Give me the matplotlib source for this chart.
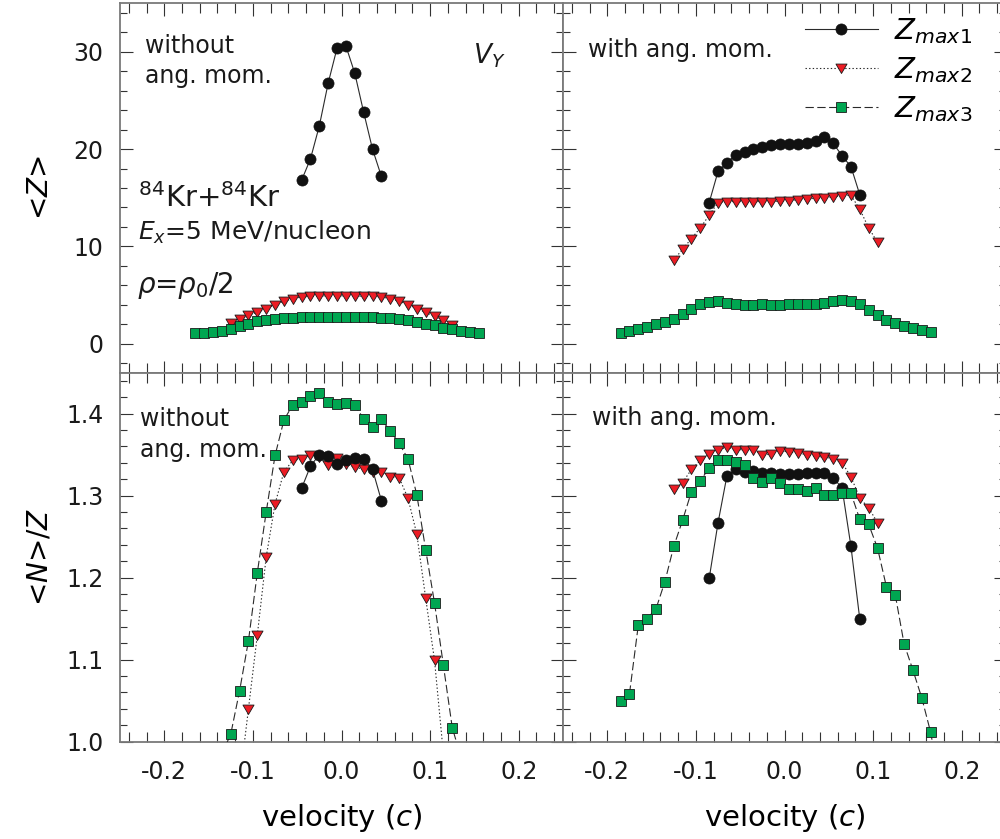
import matplotlib
matplotlib.use('Agg')
import matplotlib.pyplot as plt
from matplotlib.ticker import FixedLocator, MultipleLocator, FormatStrFormatter
from matplotlib.path import Path

plt.rcParams['font.family'] = ['DejaVu Sans']
plt.rcParams['axes.unicode_minus'] = False
plt.rcParams['mathtext.fontset'] = 'dejavusans'
plt.rcParams['lines.scale_dashes'] = False

# ---------------- data ----------------
# top-left: <Z>, without angular momentum
tl_v1 = [-0.045, -0.035, -0.025, -0.015, -0.005, 0.005, 0.015, 0.025, 0.035, 0.045]
tl_z1 = [16.8, 19.0, 22.4, 26.8, 30.4, 30.6, 27.8, 23.8, 20.0, 17.2]
tl_v2 = [-0.125, -0.115, -0.105, -0.095, -0.085, -0.075, -0.065, -0.055, -0.045, -0.035,
         -0.025, -0.015, -0.005, 0.005, 0.015, 0.025, 0.035, 0.045, 0.055, 0.065,
         0.075, 0.085, 0.095, 0.105, 0.115, 0.125]
tl_z2 = [2.1, 2.5, 2.9, 3.2, 3.6, 4.0, 4.35, 4.6, 4.8, 4.85, 4.9, 4.9, 4.9, 4.9, 4.9,
         4.85, 4.85, 4.8, 4.6, 4.35, 4.0, 3.6, 3.2, 2.8, 2.4, 1.9]
tl_v3 = [-0.165, -0.155, -0.145, -0.135, -0.125, -0.115, -0.105, -0.095, -0.085, -0.075,
         -0.065, -0.055, -0.045, -0.035, -0.025, -0.015, -0.005, 0.005, 0.015, 0.025,
         0.035, 0.045, 0.055, 0.065, 0.075, 0.085, 0.095, 0.105, 0.115, 0.125,
         0.135, 0.145, 0.155]
tl_z3 = [1.1, 1.1, 1.2, 1.3, 1.5, 1.8, 2.05, 2.3, 2.45, 2.55, 2.6, 2.65, 2.7, 2.7, 2.7,
         2.7, 2.7, 2.7, 2.7, 2.7, 2.7, 2.65, 2.6, 2.55, 2.4, 2.25, 2.05, 1.9, 1.6, 1.45,
         1.25, 1.15, 1.05]

# top-right: <Z>, with angular momentum
tr_v1 = [-0.085, -0.075, -0.065, -0.055, -0.045, -0.035, -0.025, -0.015, -0.005,
         0.005, 0.015, 0.025, 0.035, 0.045, 0.055, 0.065, 0.075, 0.085]
tr_z1 = [14.5, 17.7, 18.6, 19.4, 19.7, 20.0, 20.2, 20.4, 20.5, 20.5, 20.5, 20.6, 20.8,
         21.2, 20.6, 19.3, 18.2, 15.3]
tr_v2 = [-0.125, -0.115, -0.105, -0.095, -0.085, -0.075, -0.065, -0.055, -0.045, -0.035,
         -0.025, -0.015, -0.005, 0.005, 0.015, 0.025, 0.035, 0.045, 0.055, 0.065,
         0.075, 0.085, 0.095, 0.105]
tr_z2 = [8.6, 9.7, 10.8, 11.9, 13.2, 14.5, 14.6, 14.6, 14.6, 14.6, 14.6, 14.6, 14.65,
         14.7, 14.8, 14.85, 14.95, 15.0, 15.1, 15.2, 15.25, 13.8, 11.9, 10.4]
tr_v3 = [-0.185, -0.175, -0.165, -0.155, -0.145, -0.135, -0.125, -0.115, -0.105, -0.095,
         -0.085, -0.075, -0.065, -0.055, -0.045, -0.035, -0.025, -0.015, -0.005, 0.005,
         0.015, 0.025, 0.035, 0.045, 0.055, 0.065, 0.075, 0.085, 0.095, 0.105,
         0.115, 0.125, 0.135, 0.145, 0.155, 0.165]
tr_z3 = [1.1, 1.25, 1.45, 1.7, 2.0, 2.2, 2.55, 3.0, 3.6, 4.1, 4.3, 4.35, 4.2, 4.05, 3.95,
         3.95, 4.05, 4.0, 4.0, 4.05, 4.05, 4.05, 4.1, 4.2, 4.35, 4.45, 4.35, 4.05, 3.45,
         2.9, 2.45, 2.1, 1.8, 1.55, 1.35, 1.2]

# bottom-left: <N>/Z, without angular momentum
bl_v1 = [-0.045, -0.035, -0.025, -0.015, -0.005, 0.005, 0.015, 0.025, 0.035, 0.045]
bl_r1 = [1.309, 1.336, 1.350, 1.348, 1.338, 1.343, 1.346, 1.345, 1.332, 1.294]
bl_v2 = [-0.115, -0.105, -0.095, -0.085, -0.075, -0.065, -0.055, -0.045, -0.035, -0.025,
         -0.015, -0.005, 0.005, 0.015, 0.025, 0.035, 0.045, 0.055, 0.065, 0.075,
         0.085, 0.095, 0.105, 0.115]
bl_r2 = [0.95, 1.040, 1.130, 1.225, 1.290, 1.329, 1.343, 1.345, 1.350, 1.347, 1.337,
         1.346, 1.338, 1.335, 1.332, 1.329, 1.329, 1.323, 1.322, 1.297, 1.253, 1.175,
         1.099, 0.985]
bl_v3 = [-0.135, -0.125, -0.115, -0.105, -0.095, -0.085, -0.075, -0.065, -0.055, -0.045,
         -0.035, -0.025, -0.015, -0.005, 0.005, 0.015, 0.025, 0.035, 0.045, 0.055,
         0.065, 0.075, 0.085, 0.095, 0.105, 0.115, 0.125, 0.135]
bl_r3 = [0.985, 1.009, 1.062, 1.123, 1.206, 1.280, 1.349, 1.392, 1.411, 1.414, 1.422,
         1.425, 1.414, 1.412, 1.413, 1.410, 1.394, 1.384, 1.393, 1.379, 1.364, 1.345,
         1.301, 1.234, 1.169, 1.093, 1.017, 0.98]

# bottom-right: <N>/Z, with angular momentum
br_v1 = [-0.085, -0.075, -0.065, -0.055, -0.045, -0.035, -0.025, -0.015, -0.005,
         0.005, 0.015, 0.025, 0.035, 0.045, 0.055, 0.065, 0.075, 0.085]
br_r1 = [1.199, 1.267, 1.324, 1.332, 1.329, 1.330, 1.328, 1.327, 1.326, 1.326, 1.326,
         1.327, 1.328, 1.327, 1.322, 1.309, 1.238, 1.149]
br_v2 = [-0.125, -0.115, -0.105, -0.095, -0.085, -0.075, -0.065, -0.055, -0.045, -0.035,
         -0.025, -0.015, -0.005, 0.005, 0.015, 0.025, 0.035, 0.045, 0.055, 0.065,
         0.075, 0.085, 0.095, 0.105]
br_r2 = [1.308, 1.316, 1.332, 1.343, 1.351, 1.356, 1.359, 1.356, 1.356, 1.356, 1.349,
         1.351, 1.355, 1.353, 1.352, 1.350, 1.348, 1.347, 1.345, 1.340, 1.323, 1.297,
         1.285, 1.267]
br_v3 = [-0.185, -0.175, -0.165, -0.155, -0.145, -0.135, -0.125, -0.115, -0.105, -0.095,
         -0.085, -0.075, -0.065, -0.055, -0.045, -0.035, -0.025, -0.015, -0.005, 0.005,
         0.015, 0.025, 0.035, 0.045, 0.055, 0.065, 0.075, 0.085, 0.095, 0.105,
         0.115, 0.125, 0.135, 0.145, 0.155, 0.165, 0.175]
br_r3 = [1.049, 1.058, 1.142, 1.150, 1.162, 1.195, 1.238, 1.270, 1.305, 1.318, 1.334,
         1.344, 1.343, 1.341, 1.337, 1.322, 1.317, 1.321, 1.315, 1.308, 1.308, 1.306,
         1.309, 1.301, 1.301, 1.303, 1.303, 1.271, 1.265, 1.236, 1.189, 1.179, 1.119,
         1.087, 1.053, 1.011, 0.95]

series_labels = [r'$Z_{\mathit{max1}}$', r'$Z_{\mathit{max2}}$', r'$Z_{\mathit{max3}}$']
x_ticks = [-0.2, -0.1, 0.0, 0.1, 0.2]
z_ticks = [0, 10, 20, 30]
nz_ticks = [1.0, 1.1, 1.2, 1.3, 1.4]

# ---------------- styling ----------------
RED = '#ec1c24'
GREEN = '#00a651'
EDGE = '#1a1a1a'
LINEC = '#2a2a2a'
tri = Path([(-1, 0.8), (1, 0.8), (0, -0.9), (-1, 0.8)],
           [Path.MOVETO, Path.LINETO, Path.LINETO, Path.CLOSEPOLY])

fig = plt.figure(figsize=(10, 8.39), dpi=100)
W = 0.443
top_b, top_h = 0.5558, 0.4403
bot_b, bot_h = 0.1162, 0.4396
ax_tl = fig.add_axes([0.120, top_b, W, top_h])
ax_tr = fig.add_axes([0.563, top_b, W, top_h])
ax_bl = fig.add_axes([0.120, bot_b, W, bot_h])
ax_br = fig.add_axes([0.563, bot_b, W, bot_h])


def draw(ax, v1, y1, v2, y2, v3, y3):
    l2, = ax.plot(v2, y2, color=LINEC, lw=0.8, ls=(0, (1.0, 1.6)), marker=tri,
                  ms=8.0, mfc=RED, mec=EDGE, mew=0.6, zorder=2)
    l1, = ax.plot(v1, y1, color=LINEC, lw=0.8, ls='-', marker='o',
                  ms=8.0, mfc='#111111', mec='#111111', mew=0.5, zorder=3)
    l3, = ax.plot(v3, y3, color=LINEC, lw=0.8, ls=(0, (6, 2.5)), marker='s',
                  ms=6.9, mfc=GREEN, mec=EDGE, mew=0.6, zorder=4)
    return l1, l2, l3


def style(ax, top, left, bottom):
    ax.set_xlim(-0.25, 0.25)
    ax.xaxis.set_major_locator(FixedLocator(x_ticks))
    ax.xaxis.set_minor_locator(MultipleLocator(0.02))
    ax.xaxis.set_major_formatter(FormatStrFormatter('%.1f'))
    if top:
        ax.set_ylim(-3, 35)
        ax.yaxis.set_major_locator(FixedLocator(z_ticks))
        ax.yaxis.set_minor_locator(MultipleLocator(2))
        ax.yaxis.set_major_formatter(FormatStrFormatter('%d'))
    else:
        ax.set_ylim(1.0, 1.45)
        ax.yaxis.set_major_locator(FixedLocator(nz_ticks))
        ax.yaxis.set_minor_locator(MultipleLocator(0.02))
        ax.yaxis.set_major_formatter(FormatStrFormatter('%.1f'))
    ax.tick_params(which='both', direction='in', top=True, right=True,
                   color='#333333', width=0.8, labelsize=17, labelcolor='#1a1a1a',
                   labelleft=left, labelbottom=bottom)
    ax.tick_params(which='major', length=9)
    ax.tick_params(axis='x', which='minor', length=7.5)
    ax.tick_params(axis='y', which='minor', length=5)
    ax.tick_params(axis='x', pad=13)
    ax.tick_params(axis='y', pad=12)
    for s in ax.spines.values():
        s.set_color('#7a7a7a')
        s.set_linewidth(1.3)


handles = draw(ax_tr, tr_v1, tr_z1, tr_v2, tr_z2, tr_v3, tr_z3)
draw(ax_tl, tl_v1, tl_z1, tl_v2, tl_z2, tl_v3, tl_z3)
draw(ax_bl, bl_v1, bl_r1, bl_v2, bl_r2, bl_v3, bl_r3)
draw(ax_br, br_v1, br_r1, br_v2, br_r2, br_v3, br_r3)

style(ax_tl, True, True, False)
style(ax_tr, True, False, False)
style(ax_bl, False, True, True)
style(ax_br, False, False, True)

# axis labels
ax_tl.set_ylabel('<$Z$>', fontsize=20)
ax_tl.yaxis.set_label_coords(-0.15, 0.5)
ax_bl.set_ylabel('<$N$>/$Z$', fontsize=20)
ax_bl.yaxis.set_label_coords(-0.15, 0.5)
for ax in (ax_bl, ax_br):
    ax.set_xlabel('velocity ($c$)', fontsize=21)
    ax.xaxis.set_label_coords(0.5, -0.165)

# annotations
tk = dict(fontsize=17, color='#1a1a1a', va='baseline', ha='left')
ax_tl.text(0.0564, 0.8655, 'without', transform=ax_tl.transAxes, **tk)
ax_tl.text(0.0564, 0.784, 'ang. mom.', transform=ax_tl.transAxes, **tk)
ax_tl.text(0.7975, 0.8376, '$V_Y$', transform=ax_tl.transAxes, fontsize=19,
           color='#1a1a1a', va='baseline')
ax_tl.text(0.0413, 0.4478, '$^{84}$Kr+$^{84}$Kr', transform=ax_tl.transAxes,
           fontsize=21, color='#1a1a1a', va='baseline')
ax_tl.text(0.0413, 0.3592, '$E_x$=5 MeV/nucleon', transform=ax_tl.transAxes,
           fontsize=18, color='#1a1a1a', va='baseline')
ax_tl.text(0.0377, 0.215, r'$\rho$=$\rho_0$/2', transform=ax_tl.transAxes,
           fontsize=20, color='#1a1a1a', va='baseline')
ax_tr.text(0.0564, 0.8554, 'with ang. mom.', transform=ax_tr.transAxes, **tk)
ax_bl.text(0.0451, 0.8555, 'without', transform=ax_bl.transAxes, **tk)
ax_bl.text(0.0451, 0.7706, 'ang. mom.', transform=ax_bl.transAxes, **tk)
ax_br.text(0.0647, 0.858, 'with ang. mom.', transform=ax_br.transAxes, **tk)

ax_tr.legend(handles, series_labels, loc='upper left', bbox_to_anchor=(0.546, 0.965),
             frameon=False, fontsize=21, handlelength=2.5, handletextpad=0.55,
             labelspacing=0.32, borderpad=0, borderaxespad=0, numpoints=1)

fig.savefig('out.png', dpi=100)
